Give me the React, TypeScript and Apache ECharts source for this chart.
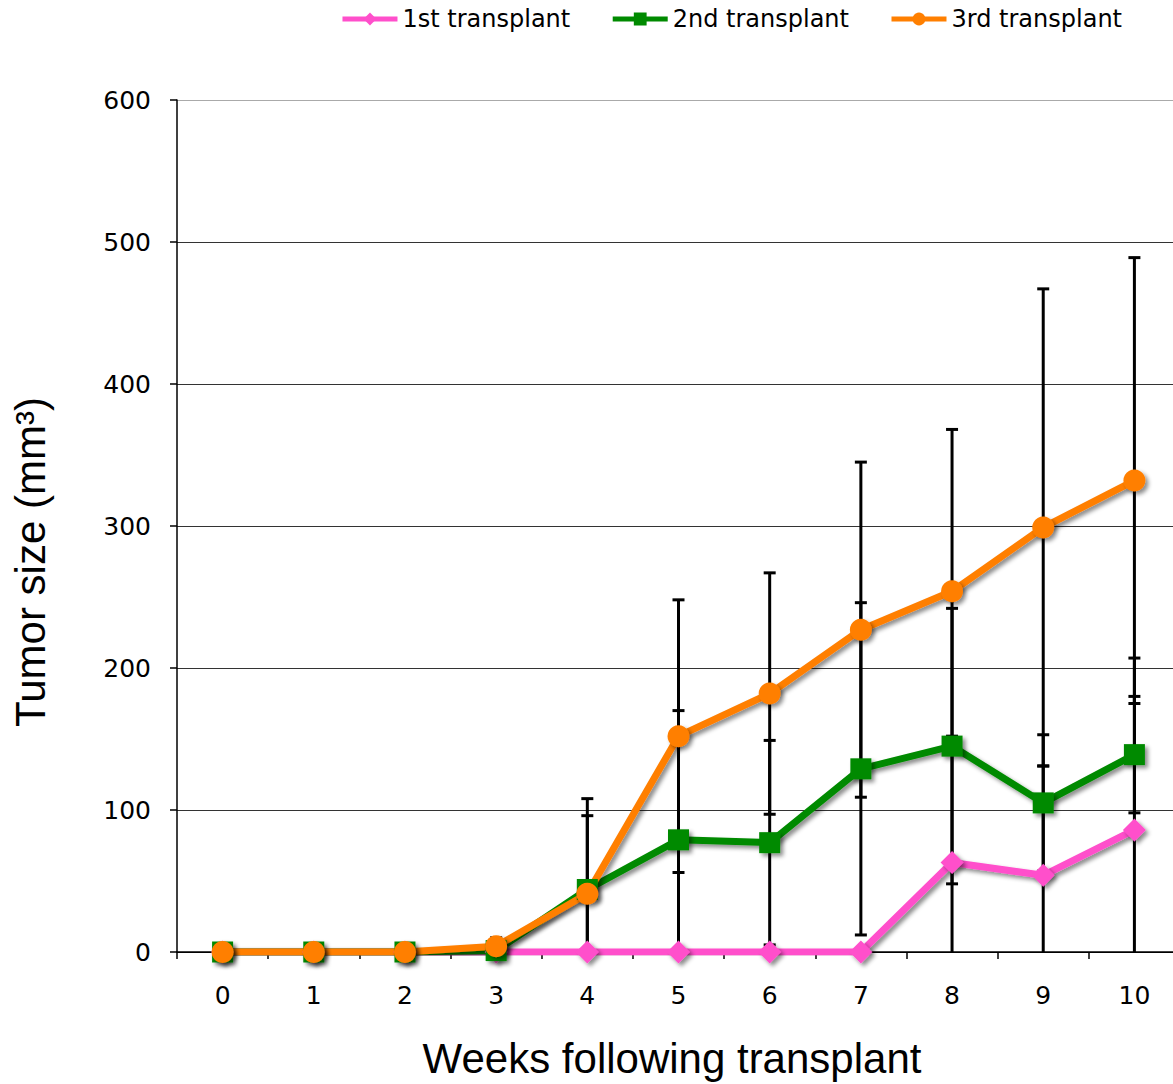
import React, { useEffect, useRef } from "react";
import * as echarts from "echarts";

const weeks = ["0", "1", "2", "3", "4", "5", "6", "7", "8", "9", "10"];
const yTicks = [0, 100, 200, 300, 400, 500, 600];

const first = [0, 0, 0, 0, 0, 0, 0, 0, 63, 54, 86];
const firstErr = [0, 0, 0, 0, 0, 0, 0, 0, 89, 77, 121];
const second = [0, 0, 0, 1, 44, 79, 77, 129, 145, 105, 139];
const secondErr = [0, 0, 0, 0, 52, 91, 72, 117, 97, 48, 41];
const third = [0, 0, 0, 4, 41, 152, 182, 227, 254, 299, 332];
const thirdErr = [0, 0, 0, 6, 67, 96, 85, 118, 114, 168, 157];

const names = ["1st transplant", "2nd transplant", "3rd transplant"];
const colors = ["#ff4fcb", "#008a00", "#ff7f00"];

const errData = (means: number[], errs: number[]) =>
  means
    .map((m, i) => [i, m - errs[i], m + errs[i], errs[i]])
    .filter((d) => d[3] > 0);

export default function App() {
  const ref = useRef<HTMLDivElement>(null);
  useEffect(() => {
    if (!ref.current) return;
    const chart = echarts.init(ref.current, null, { renderer: "svg" });
    const shadow = {
      shadowBlur: 4,
      shadowColor: "rgba(0,0,0,0.45)",
      shadowOffsetX: 3,
      shadowOffsetY: 3,
    };
    const renderErr = (params: any, api: any) => {
      const x = api.value(0);
      const lo = api.value(1);
      const hi = api.value(2);
      const top = api.coord([x, Math.min(hi, 600)]);
      const bot = api.coord([x, Math.max(lo, 0)]);
      const hw = 6;
      const st = { stroke: "#000", lineWidth: 3 };
      const children: any[] = [
        { type: "line", shape: { x1: top[0], y1: top[1], x2: bot[0], y2: bot[1] }, style: st },
        { type: "line", shape: { x1: top[0] - hw, y1: top[1], x2: top[0] + hw, y2: top[1] }, style: st },
      ];
      if (lo >= 0) {
        children.push({
          type: "line",
          shape: { x1: bot[0] - hw, y1: bot[1], x2: bot[0] + hw, y2: bot[1] },
          style: st,
        });
      }
      return { type: "group", children };
    };
    const lineSeries = (name: string, data: number[], color: string, symbol: string, size: number) => ({
      type: "line",
      name,
      data,
      symbol,
      symbolSize: size,
      showAllSymbol: true,
      lineStyle: { color, width: 7, ...shadow },
      itemStyle: { color, ...shadow },
      z: 3,
    });
    const errSeries = (means: number[], errs: number[]) => ({
      type: "custom",
      renderItem: renderErr,
      data: errData(means, errs),
      encode: { x: 0, y: [1, 2] },
      z: 2,
      silent: true,
    });
    chart.setOption({
      animation: false,
      grid: { left: 177, top: 100, width: 1003, height: 852 },
      legend: {
        data: names,
        top: 2,
        right: 53,
        itemWidth: 55,
        itemHeight: 16,
        itemGap: 40,
        textStyle: { fontFamily: "DejaVu Sans", fontSize: 24, color: "#000" },
        lineStyle: { width: 5, shadowBlur: 0, shadowOffsetX: 0, shadowOffsetY: 0 },
        itemStyle: { shadowBlur: 0, shadowOffsetX: 0, shadowOffsetY: 0 },
      },
      xAxis: {
        type: "category",
        data: weeks,
        boundaryGap: true,
        axisLine: { lineStyle: { color: "#000", width: 1.5 } },
        axisTick: { show: true, length: 7, lineStyle: { color: "#000", width: 1.5 } },
        axisLabel: { fontFamily: "DejaVu Sans", fontSize: 25, color: "#000", margin: 31 },
        splitLine: { show: false },
      },
      yAxis: {
        type: "value",
        min: yTicks[0],
        max: yTicks[yTicks.length - 1],
        interval: 100,
        axisLine: { show: true, lineStyle: { color: "#000", width: 1.5 } },
        axisTick: { show: true, length: 7, lineStyle: { color: "#000", width: 1.5 } },
        axisLabel: { fontFamily: "DejaVu Sans", fontSize: 25, color: "#000", margin: 26 },
        splitLine: {
          show: true,
          lineStyle: {
            color: ["#000", "#333", "#333", "#333", "#333", "#333", "#aaa"],
            width: 1,
          },
        },
      },
      graphic: [
        {
          type: "text",
          x: 672,
          y: 1058,
          style: {
            text: "Weeks following transplant",
            fontFamily: "Liberation Sans",
            fontSize: 42,
            fill: "#000",
            textAlign: "center",
            textVerticalAlign: "middle",
          },
        },
        {
          type: "text",
          x: 30,
          y: 562,
          rotation: Math.PI / 2,
          style: {
            text: "Tumor size (mm³)",
            fontFamily: "Liberation Sans",
            fontSize: 42,
            fill: "#000",
            textAlign: "center",
            textVerticalAlign: "middle",
          },
        },
      ],
      series: [
        errSeries(first, firstErr),
        errSeries(second, secondErr),
        errSeries(third, thirdErr),
        lineSeries(names[0], first, colors[0], "diamond", 23),
        lineSeries(names[1], second, colors[1], "rect", 21),
        lineSeries(names[2], third, colors[2], "circle", 22),
      ],
    });
    return () => chart.dispose();
  }, []);
  return (
    <div style={{ position: "absolute", left: 0, top: 0, width: 1173, height: 1084, overflow: "hidden", background: "#fff" }}>
      <div ref={ref} style={{ width: 1180, height: 1084 }} />
    </div>
  );
}
